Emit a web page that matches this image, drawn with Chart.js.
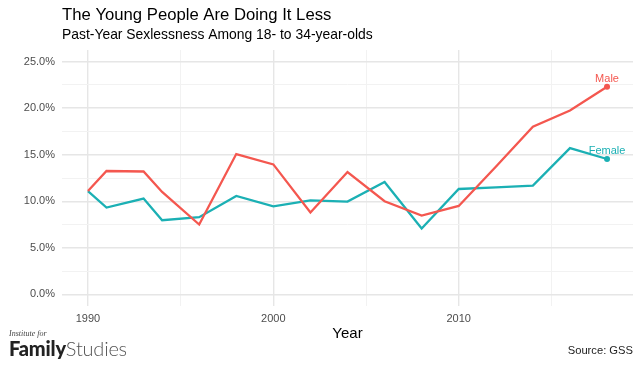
<!DOCTYPE html>
<html>
<head>
<meta charset="utf-8">
<script src="https://cdn.jsdelivr.net/npm/chart.js@4"></script>
<style>
  html, body { margin: 0; padding: 0; background: #fff; }
  #wrap { position: relative; width: 640px; height: 366px; }
  #logo { position: absolute; left: 9px; top: 330px; color: #222; }
  #logo .small { font-family: "Liberation Serif", serif; font-style: italic; font-size: 8px; line-height: 8px; color: #444; }
  #logo .big { font-family: Lato, sans-serif; font-size: 20px; line-height: 20px; letter-spacing: -0.2px; }
  #logo .big b { font-weight: 900; color: #222; }
  #logo .big span { font-weight: 300; color: #555; }
  #source { position: absolute; right: 7px; top: 344px; font-family: "Liberation Sans", Arial, sans-serif; font-size: 11.2px; color: #222; }
</style>
</head>
<body>
<div id="wrap">
  <canvas id="myChart" width="640" height="366"></canvas>
  <div id="logo"><div class="small">Institute for</div><div class="big"><b>Family</b><span>Studies</span></div></div>
  <div id="source">Source: GSS</div>
</div>
<script>
const years = [1990, 1991, 1993, 1994, 1996, 1998, 2000, 2002, 2004, 2006, 2008, 2010, 2012, 2014, 2016, 2018];
const male = [11.1, 13.25, 13.2, 11.0, 7.5, 15.07, 13.96, 8.8, 13.14, 10.0, 8.46, 9.5, 13.7, 18.0, 19.75, 22.3];
const female = [11.1, 9.32, 10.29, 7.96, 8.29, 10.57, 9.46, 10.1, 9.97, 12.07, 7.07, 11.32, 11.5, 11.68, 15.71, 14.54];
const xTicks = [1990, 1995, 2000, 2005, 2010, 2015];
const yTicks = [0, 2.5, 5, 7.5, 10, 12.5, 15, 17.5, 20, 22.5, 25];

const red = '#F4574F';
const teal = '#1BB0B4';
const last = years.length - 1;

// text labels + titles drawn on the canvas
const textPlugin = {
  id: 'texts',
  afterDatasetsDraw(chart) {
    const ctx = chart.ctx;
    const area = chart.chartArea;
    const x = chart.scales.x, y = chart.scales.y;
    ctx.save();
    ctx.textBaseline = 'alphabetic';
    ctx.fillStyle = '#000';
    ctx.textAlign = 'left';
    ctx.font = '16.7px "Liberation Sans", Arial, sans-serif';
    ctx.fillText('The Young People Are Doing It Less', area.left, 19.5);
    ctx.font = '13.9px "Liberation Sans", Arial, sans-serif';
    ctx.fillText('Past-Year Sexlessness Among 18- to 34-year-olds', area.left, 38.5);
    ctx.font = '15px "Liberation Sans", Arial, sans-serif';
    ctx.textAlign = 'center';
    ctx.fillText('Year', (area.left + area.right) / 2, 338);
    // series labels at the end points
    ctx.font = '11px "Liberation Sans", Arial, sans-serif';
    ctx.fillStyle = red;
    ctx.fillText('Male', x.getPixelForValue(years[last]), y.getPixelForValue(male[last]) - 5);
    ctx.fillStyle = teal;
    ctx.fillText('Female', x.getPixelForValue(years[last]), y.getPixelForValue(female[last]) - 5);
    ctx.restore();
  }
};

const data = {
  datasets: [
    {
      label: 'Male',
      borderColor: red,
      backgroundColor: red,
      data: years.map((yr, i) => ({ x: yr, y: male[i] })),
    },
    {
      label: 'Female',
      borderColor: teal,
      backgroundColor: teal,
      data: years.map((yr, i) => ({ x: yr, y: female[i] })),
    }
  ]
};

const config = {
  type: 'line',
  data: data,
  options: {
    responsive: false,
    animation: false,
    layout: { padding: { top: 50, right: 7, left: 0, bottom: 0 } },
    elements: {
      line: { borderWidth: 2.3, tension: 0 },
      point: { radius: ctx => ctx.dataIndex === last ? 3 : 0, borderWidth: 0, hoverRadius: 0 }
    },
    plugins: {
      legend: { display: false },
      tooltip: { enabled: false },
      title: { display: false }
    },
    scales: {
      x: {
        type: 'linear',
        min: 1988.6,
        max: 2019.4,
        border: { display: false },
        afterBuildTicks: axis => { axis.ticks = xTicks.map(v => ({ value: v })); },
        afterFit: axis => { axis.height = 60; },
        grid: {
          drawTicks: false,
          color: ctx => ctx.tick && ctx.tick.value % 10 === 0 ? '#e6e6e6' : '#f2f2f2',
          lineWidth: ctx => ctx.tick && ctx.tick.value % 10 === 0 ? 1.4 : 1
        },
        ticks: {
          padding: 6,
          color: '#4d4d4d',
          font: { family: '"Liberation Sans", Arial, sans-serif', size: 11 },
          autoSkip: false,
          maxRotation: 0,
          callback: v => v % 10 === 0 ? String(v) : ''
        }
      },
      y: {
        min: -1.25,
        max: 26.25,
        border: { display: false },
        afterBuildTicks: axis => { axis.ticks = yTicks.map(v => ({ value: v })); },
        afterFit: axis => { axis.width = 62; },
        grid: {
          drawTicks: false,
          color: ctx => ctx.tick && ctx.tick.value % 5 === 0 ? '#e6e6e6' : '#f2f2f2',
          lineWidth: ctx => ctx.tick && ctx.tick.value % 5 === 0 ? 1.4 : 1
        },
        ticks: {
          padding: 7,
          color: '#4d4d4d',
          font: { family: '"Liberation Sans", Arial, sans-serif', size: 11 },
          callback: v => v % 5 === 0 ? v.toFixed(1) + '%' : ''
        }
      }
    }
  },
  plugins: [textPlugin]
};

const myChart = new Chart(document.getElementById('myChart'), config);
</script>
</body>
</html>
